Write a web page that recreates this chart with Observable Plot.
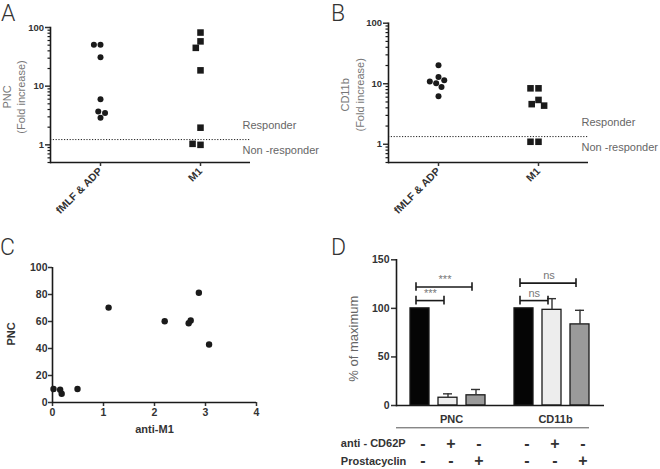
<!DOCTYPE html>
<html><head><meta charset="utf-8">
<script src="https://cdn.jsdelivr.net/npm/d3@7"></script>
<script src="https://cdn.jsdelivr.net/npm/@observablehq/plot@0.6"></script>
<style>
html,body{margin:0;padding:0;background:#fff;}
#fig{position:relative;width:660px;height:469px;overflow:hidden;font-family:"Liberation Sans",Arial,sans-serif;}
.panel{position:absolute;}
.letter{position:absolute;font-family:Roboto,"Liberation Sans",sans-serif;font-weight:300;font-size:23px;color:#333;line-height:normal;}
</style></head><body><div id="fig"></div>
<script>
// ---------- data ----------
const panelLetters = ["A", "B", "C", "D"];
// A & B
const abCategories = ["fMLF & ADP", "M1"];
const pncFmlfAdp = [51, 51, 31, 6, 2.9, 3.7, 3.5];
const pncM1 = [82, 58, 45, 18.6, 1.96, 1.0, 1.04];
const cd11bFmlfAdp = [20.2, 12.9, 6.2, 10.2, 8.8, 11.4, 10.9];
const cd11bM1 = [8.4, 8.4, 5.4, 4.6, 4.35, 1.1, 1.1];
const pncCutoff = 1.23;
const cd11bCutoff = 1.34;
const logTickLabels = [1, 10, 100];
const logMinorTicks = [0.5, 0.6, 0.7, 0.8, 0.9, 2, 3, 4, 5, 6, 7, 8, 9, 20, 30, 40, 50, 60, 70, 80, 90];
const responderLabels = ["Responder", "Non -responder"];
const abTitles = ["PNC\n(Fold increase)", "CD11b\n(Fold increase)"];
// C
const antiM1 = [0.02, 0.15, 0.18, 0.49, 1.10, 2.20, 2.67, 2.71, 2.87, 3.07];
const pncVsM1 = [10, 9.5, 6.5, 10, 70.3, 60.2, 58.7, 60.7, 81.3, 43];
const cXTicks = [0, 1, 2, 3, 4];
const cYTicks = [0, 20, 40, 60, 80, 100];
const cTitles = ["anti-M1", "PNC"];
// D
const dGroups = ["PNC", "CD11b"];
const dConditions = ["control", "anti-CD62P", "Prostacyclin"];
const dMeanPNC = [100, 8, 10.5];
const dErrPNC = [0, 4, 6];
const dMeanCD11b = [100, 98.5, 83.5];
const dErrCD11b = [0, 11.5, 14.5];
const dYTicks = [0, 50, 100, 150];
const dTitle = "% of maximum";
const signRowLabels = ["anti - CD62P", "Prostacyclin"];
const antiCD62PSigns = ["-", "+", "-"];
const prostacyclinSigns = ["-", "-", "+"];
const bracketGroup = ["PNC", "PNC", "CD11b", "CD11b"];
const bracketFrom = ["control", "control", "control", "control"];
const bracketTo = ["anti-CD62P", "Prostacyclin", "anti-CD62P", "Prostacyclin"];
const bracketLevel = [108, 122, 108, 126];
const bracketText = ["***", "***", "ns", "ns"];

// ---------- helpers ----------
const FONT = "'Liberation Sans', Arial, sans-serif";
const INK = "#1a1a1a";
const fig = document.getElementById("fig");
function place(node, left, top) {
  const d = document.createElement("div");
  d.className = "panel";
  d.style.left = left + "px"; d.style.top = top + "px";
  d.appendChild(node);
  fig.appendChild(d);
}
function letter(t, left, top) {
  const d = document.createElement("div");
  d.className = "letter"; d.textContent = t;
  d.style.left = left + "px"; d.style.top = top + "px";
  fig.appendChild(d);
}

function dotPanel(fmlf, m1, cutoff, title, m) {
  const pts = [
    ...fmlf.map(v => ({cat: abCategories[0], v})),
    ...m1.map(v => ({cat: abCategories[1], v}))
  ];
  return Plot.plot({
    width: 330, height: 230,
    marginLeft: m.left, marginRight: m.right, marginTop: m.top, marginBottom: 68,
    style: {fontFamily: FONT, background: "transparent", overflow: "visible"},
    fx: {domain: abCategories, padding: 0},
    y: {type: "log", domain: [0.5, 100]},
    marks: [
      Plot.ruleY([cutoff], {stroke: "#222", strokeWidth: 1, strokeDasharray: "1.2,1.6"}),
      Plot.dot(pts.filter(d => d.cat === abCategories[0]),
        Plot.dodgeX({anchor: "middle", padding: 0.6}, {fx: "cat", y: "v", r: 3, fill: INK, symbol: "circle"})),
      Plot.dot(pts.filter(d => d.cat === abCategories[1]),
        Plot.dodgeX({anchor: "middle", padding: 0.6}, {fx: "cat", y: "v", r: 3.7, fill: INK, symbol: "square"})),
      Plot.axisY({ticks: logMinorTicks, tickSize: 2.5, tickFormat: () => "", label: null, strokeWidth: 1.2, color: INK}),
      Plot.axisY({ticks: logTickLabels, tickSize: 5, tickPadding: 1.5, tickFormat: d => String(d), label: null,
        fontSize: 9.5, fontWeight: "bold", color: "#333", strokeWidth: 1.5}),
      Plot.frame({anchor: "left", facetAnchor: "left", stroke: INK, strokeWidth: 1.6}),
      Plot.ruleY([0.5], {stroke: INK, strokeWidth: 1.6}),
      Plot.axisFx({anchor: "bottom", tickSize: 4, tickPadding: 3, tickRotate: -45, label: null,
        fontSize: 10.5, fontWeight: "bold", color: "#333", strokeWidth: 1.5}),
      Plot.text([responderLabels[0]], {fx: () => abCategories[1], y: () => cutoff, frameAnchor: "right",
        textAnchor: "start", dx: m.respDx, dy: -14, fontSize: 11, fill: "#666"}),
      Plot.text([responderLabels[1]], {fx: () => abCategories[1], y: () => cutoff, frameAnchor: "right",
        textAnchor: "start", dx: m.respDx, dy: 11, fontSize: 11, fill: "#666"}),
      Plot.text([title], {fx: () => abCategories[0], frameAnchor: "left", textAnchor: "middle", rotate: -90,
        dx: m.titleDx, dy: 2, fontSize: 11, lineHeight: 1.3, fill: "#777"})
    ]
  });
}

// ---------- A & B ----------
place(dotPanel(pncFmlfAdp, pncM1, pncCutoff, abTitles[0],
  {left: 49, right: 80, top: 27, respDx: -8, titleDx: -37}), 0, 0);
place(dotPanel(cd11bFmlfAdp, cd11bM1, cd11bCutoff, abTitles[1],
  {left: 58, right: 72, top: 22.7, respDx: -7, titleDx: -36.5}), 330, 0);

// ---------- C ----------
const cPoints = antiM1.map((x, i) => ({x, y: pncVsM1[i]}));
place(Plot.plot({
  width: 330, height: 239,
  marginLeft: 52, marginRight: 74, marginTop: 37, marginBottom: 67,
  style: {fontFamily: FONT, background: "transparent", overflow: "visible"},
  x: {domain: [0, 4]},
  y: {domain: [0, 100]},
  marks: [
    Plot.axisX({ticks: cXTicks, tickFormat: d => String(d), tickSize: 4, tickPadding: 2, label: null, fontSize: 10.5, fontWeight: "bold", color: "#333", strokeWidth: 1.5}),
    Plot.axisY({ticks: cYTicks, tickFormat: d => String(d), tickSize: 4, tickPadding: 1, label: null, fontSize: 10.5, fontWeight: "bold", color: "#333", strokeWidth: 1.5}),
    Plot.ruleX([0], {stroke: INK, strokeWidth: 1.6}),
    Plot.ruleY([0], {stroke: INK, strokeWidth: 1.6}),
    Plot.dot(cPoints, {x: "x", y: "y", r: 3.2, fill: INK}),
    Plot.text([cTitles[0]], {frameAnchor: "bottom", dy: 30, fontSize: 11, fontWeight: "bold", fill: "#333"}),
    Plot.text([cTitles[1]], {frameAnchor: "left", textAnchor: "middle", rotate: -90, dx: -41, dy: -1, fontSize: 11, fontWeight: "bold", fill: "#333"})
  ]
}), 0, 230);

// ---------- D ----------
const barRows = dGroups.flatMap((g, gi) => dConditions.map((c, ci) => ({
  group: g, cond: c,
  mean: (gi === 0 ? dMeanPNC : dMeanCD11b)[ci],
  err: (gi === 0 ? dErrPNC : dErrCD11b)[ci],
  s1: antiCD62PSigns[ci], s2: prostacyclinSigns[ci]
})));
const errRows = barRows.filter(d => d.err > 0);
const brackets = bracketGroup.map((g, i) => ({
  group: g, from: bracketFrom[i], to: bracketTo[i], level: bracketLevel[i], label: bracketText[i],
  span: dConditions.indexOf(bracketTo[i]) - dConditions.indexOf(bracketFrom[i])
}));
const bracketEnds = brackets.flatMap(b => [{group: b.group, x: b.from, level: b.level}, {group: b.group, x: b.to, level: b.level}]);
const dTextStyle = {fontSize: 11, fontWeight: "bold", fill: "#333"};

place(Plot.plot({
  width: 330, height: 239,
  marginLeft: 66, marginRight: 56, marginTop: 29.3, marginBottom: 64,
  style: {fontFamily: FONT, background: "transparent", overflow: "visible"},
  fx: {domain: dGroups, padding: 0},
  x: {domain: dConditions, paddingInner: 0.32, paddingOuter: 0.5, axis: null},
  y: {domain: [0, 150]},
  color: {domain: dConditions, range: ["#050505", "#ededed", "#9a9a9a"]},
  marks: [
    Plot.barY(barRows, {fx: "group", x: "cond", y: "mean", fill: "cond", stroke: INK, strokeWidth: 1.3}),
    Plot.ruleX(errRows, {fx: "group", x: "cond", y1: "mean", y2: d => d.mean + d.err, stroke: "#333", strokeWidth: 1.4}),
    Plot.tickY(errRows, {fx: "group", x: "cond", y: d => d.mean + d.err, insetLeft: 5, insetRight: 5, stroke: "#333", strokeWidth: 1.4}),
    Plot.link(brackets, {fx: "group", x1: "from", x2: "to", y1: "level", y2: "level", dx: -4, stroke: INK, strokeWidth: 1.6}),
    Plot.ruleX(bracketEnds, {fx: "group", x: "x", y1: d => d.level - 4.5, y2: d => d.level + 4.5, dx: -4, stroke: INK, strokeWidth: 1.6}),
    Plot.text(brackets.filter(b => b.span === 1), {fx: "group", x: "from", y: "level", text: "label", dx: 10.3, dy: -4,
      lineAnchor: "bottom", fontSize: 11, fill: "#777"}),
    Plot.text(brackets.filter(b => b.span === 2), {fx: "group", x: d => dConditions[1], y: "level", text: "label", dx: -3, dy: -4,
      lineAnchor: "bottom", fontSize: 11, fill: "#777"}),
    Plot.axisY({ticks: dYTicks, tickSize: 5, tickPadding: 2, label: null, fontSize: 10.5, fontWeight: "bold", color: "#333", strokeWidth: 1.5}),
    Plot.frame({anchor: "left", facetAnchor: "left", stroke: INK, strokeWidth: 1.6}),
    Plot.ruleY([0], {stroke: INK, strokeWidth: 1.6}),
    Plot.axisFx({anchor: "bottom", tickSize: 0, tickPadding: 9.5, label: null, dx: 3, ...dTextStyle}),
    Plot.ruleY([dGroups[0]], {fx: d => d, y: () => 0, dy: 22.3, stroke: "#555", strokeWidth: 1}),
    Plot.ruleY([dGroups[1]], {fx: d => d, y: () => 0, dy: 22.3, insetRight: 15, stroke: "#555", strokeWidth: 1}),
    Plot.text(barRows, {fx: "group", x: "cond", y: () => 0, text: "s1", dx: 3, dy: 38, fontSize: 16, fontWeight: "bold", fill: "#333"}),
    Plot.text(barRows, {fx: "group", x: "cond", y: () => 0, text: "s2", dx: 3, dy: 55.5, fontSize: 16, fontWeight: "bold", fill: "#333"}),
    Plot.text([signRowLabels[0]], {fx: () => dGroups[0], frameAnchor: "left", y: () => 0, textAnchor: "start", dx: -55.7, dy: 38, ...dTextStyle}),
    Plot.text([signRowLabels[1]], {fx: () => dGroups[0], frameAnchor: "left", y: () => 0, textAnchor: "start", dx: -55.7, dy: 55.5, ...dTextStyle}),
    Plot.text([dTitle], {fx: () => dGroups[0], frameAnchor: "left", textAnchor: "middle", rotate: -90, dx: -43, dy: 6, fontSize: 13, fill: "#666"})
  ]
}), 330, 230);

// ---------- panel letters ----------
letter(panelLetters[0], 1, 0);
letter(panelLetters[1], 331, 0);
letter(panelLetters[2], 0, 234);
letter(panelLetters[3], 331, 234);
</script></body></html>
